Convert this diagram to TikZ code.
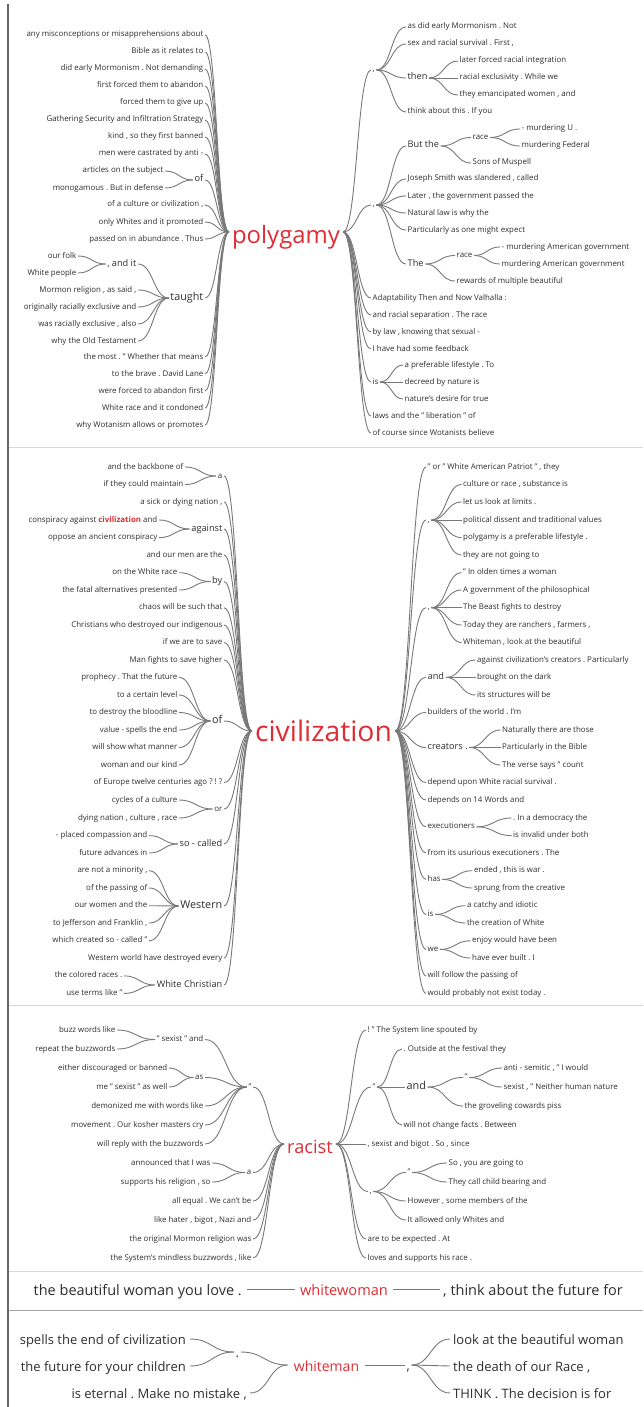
\documentclass[tikz,border=0pt]{standalone}
\usepackage{fontspec}
\setmainfont{Open Sans}
\frenchspacing
\usetikzlibrary{calc}
\definecolor{wt_red}{RGB}{222, 45, 52}
\definecolor{wt_text}{RGB}{45, 45, 45}
\definecolor{wt_line}{RGB}{120, 120, 120}
\definecolor{wt_rule}{RGB}{215, 215, 215}
\newcommand{\wsm}{\fontsize{7.9}{9}\selectfont}
\newcommand{\wmd}{\fontsize{9.2}{11}\selectfont}
\newcommand{\wlg}{\fontsize{10.8}{13}\selectfont}
\newcommand{\wbig}{\fontsize{14.5}{16}\selectfont}
\newcommand{\wmid}{\fontsize{13}{15}\selectfont}
\tikzstyle{wd}=[text=wt_text,inner xsep=1.5pt,inner ysep=0pt,
  text height=5.5pt,text depth=1.5pt,font=\wsm]
\tikzstyle{lw}=[wd,anchor=east]
\tikzstyle{rw}=[wd,anchor=west]
\tikzstyle{root}=[text=wt_red,inner xsep=3pt,inner ysep=0pt,text depth=0pt]
\tikzstyle{link}=[draw=wt_line,line width=0.9pt,
  to path={let \p1=(\tikztostart),\p2=(\tikztotarget) in
    .. controls ({(\x1+\x2)/2},\y1) and ({(\x1+\x2)/2},\y2) .. (\tikztotarget)}]

\begin{document}
\begin{tikzpicture}[x=1pt,y=-1pt]
  \useasboundingbox (0,0) rectangle (643,1407);
  % frame
  \draw[wt_rule,line width=1pt] (8,447) -- (643,447);
  \draw[wt_rule,line width=1pt] (8,1005) -- (643,1005);
  \draw[wt_rule,line width=1pt] (8,1271) -- (643,1271);
  \draw[black!35,line width=1pt] (8,1310) -- (643,1310);
  \draw[black!60,line width=1.5pt] (8,4) -- (8,1407);

  % polygamy
  \node[root,font=\fontsize{23.9}{24}\selectfont,text height=22pt] (pg) at (286,232) {polygamy};
  \node[lw] (pl1) at (205,35) {any misconceptions or misapprehensions about};
  \node[lw] (pl2) at (205,52) {Bible as it relates to};
  \node[lw] (pl3) at (205,69) {did early Mormonism . Not demanding};
  \node[lw] (pl4) at (205,86) {first forced them to abandon};
  \node[lw] (pl5) at (205,103) {forced them to give up};
  \node[lw] (pl6) at (205,120) {Gathering Security and Infiltration Strategy};
  \node[lw] (pl7) at (205,137) {kind , so they first banned};
  \node[lw] (pl8) at (205,154) {men were castrated by anti -};
  \node[lw] (plof1) at (165,171) {articles on the subject};
  \node[lw] (plof2) at (165,188) {monogamous . But in defense};
  \node[lw,font=\wmd] (plof) at (205,180) {of};
  \node[lw] (pl9) at (205,205) {of a culture or civilization ,};
  \node[lw] (pl10) at (205,222) {only Whites and it promoted};
  \node[lw] (pl11) at (205,239) {passed on in abundance . Thus};
  \node[lw] (pland1) at (78,256) {our folk};
  \node[lw] (pland2) at (78,273) {White people};
  \node[lw,font=\wmd] (pland) at (138,264) {, and it};
  \node[lw] (pltg1) at (138,290) {Mormon religion , as said ,};
  \node[lw] (pltg2) at (138,307) {originally racially exclusive and};
  \node[lw] (pltg3) at (138,324) {was racially exclusive , also};
  \node[lw] (pltg4) at (138,341) {why the Old Testament};
  \node[lw,font=\wlg] (pltg) at (205,298) {taught};
  \node[lw] (pl12) at (205,357) {the most . " Whether that means};
  \node[lw] (pl13) at (205,374) {to the brave . David Lane};
  \node[lw] (pl14) at (205,391) {were forced to abandon first};
  \node[lw] (pl15) at (205,408) {White race and it condoned};
  \node[lw] (pl16) at (205,425) {why Wotanism allows or promotes};

  \node[rw] (prc1) at (371,70) {,};
  \node[rw] (pr1) at (406,27) {as did early Mormonism . Not};
  \node[rw] (pr2) at (406,44) {sex and racial survival . First ,};
  \node[rw,font=\wmd] (prthen) at (406,78) {then};
  \node[rw] (prth1) at (458,61) {later forced racial integration};
  \node[rw] (prth2) at (458,78) {racial exclusivity . While we};
  \node[rw] (prth3) at (458,95) {they emancipated women , and};
  \node[rw] (pr3) at (406,112) {think about this . If you};
  \node[rw] (prc2) at (371,205) {,};
  \node[rw,font=\wmd] (prbut) at (406,146) {But the};
  \node[rw] (prrace1) at (471,137.5) {race};
  \node[rw] (prr11) at (520,129) {- murdering U .};
  \node[rw] (prr12) at (520,146) {murdering Federal};
  \node[rw] (prbut2) at (471,163) {Sons of Muspell};
  \node[rw] (pr4) at (406,179) {Joseph Smith was slandered , called};
  \node[rw] (pr5) at (406,196) {Later , the government passed the};
  \node[rw] (pr6) at (406,213) {Natural law is why the};
  \node[rw] (pr7) at (406,230) {Particularly as one might expect};
  \node[rw,font=\wmd] (prthe) at (406,264) {The};
  \node[rw] (prrace2) at (455,255.5) {race};
  \node[rw] (prr21) at (500,247) {- murdering American government};
  \node[rw] (prr22) at (500,264) {murdering American government};
  \node[rw] (prthe2) at (455,281) {rewards of multiple beautiful};
  \node[rw] (pr8) at (371,298) {Adaptability Then and Now Valhalla :};
  \node[rw] (pr9) at (371,315) {and racial separation . The race};
  \node[rw] (pr10) at (371,332) {by law , knowing that sexual -};
  \node[rw] (pr11) at (371,349) {I have had some feedback};
  \node[rw] (pris) at (371,382) {is};
  \node[rw] (pris1) at (403,365) {a preferable lifestyle . To};
  \node[rw] (pris2) at (403,382) {decreed by nature is};
  \node[rw] (pris3) at (403,399) {nature's desire for true};
  \node[rw] (pr12) at (371,416) {laws and the " liberation " of};
  \node[rw] (pr13) at (371,433) {of course since Wotanists believe};

  \foreach \i in {1,...,16} \draw[link] (pl\i.east) to (pg.west);
  \foreach \k in {plof,pltg} \draw[link] (\k.east) to (pg.west);
  \foreach \k in {plof1,plof2} \draw[link] (\k.east) to (plof.west);
  \foreach \k in {pland,pltg1,pltg2,pltg3,pltg4} \draw[link] (\k.east) to (pltg.west);
  \foreach \k in {pland1,pland2} \draw[link] (\k.east) to (pland.west);
  \foreach \k in {prc1,prc2,pr8,pr9,pr10,pr11,pris,pr12,pr13} \draw[link] (pg.east) to (\k.west);
  \foreach \k in {pr1,pr2,prthen,pr3} \draw[link] (prc1.east) to (\k.west);
  \foreach \k in {prth1,prth2,prth3} \draw[link] (prthen.east) to (\k.west);
  \foreach \k in {prbut,pr4,pr5,pr6,pr7,prthe} \draw[link] (prc2.east) to (\k.west);
  \foreach \k in {prrace1,prbut2} \draw[link] (prbut.east) to (\k.west);
  \foreach \k in {prr11,prr12} \draw[link] (prrace1.east) to (\k.west);
  \foreach \k in {prrace2,prthe2} \draw[link] (prthe.east) to (\k.west);
  \foreach \k in {prr21,prr22} \draw[link] (prrace2.east) to (\k.west);
  \foreach \k in {pris1,pris2,pris3} \draw[link] (pris.east) to (\k.west);

  % civilization
  \node[root,font=\fontsize{28.3}{29}\selectfont] (cv) at (323.5,731) {civilization};
  \node[lw] (cla1) at (185,467) {and the backbone of};
  \node[lw] (cla2) at (185,484.5) {if they could maintain};
  \node[lw] (cla) at (224,476) {a};
  \node[lw] (cl1) at (224,502) {a sick or dying nation ,};
  \node[lw] (clag1) at (159,520) {conspiracy against \textcolor{wt_red}{\textbf{civilization}} and};
  \node[lw] (clag2) at (159,537.6) {oppose an ancient conspiracy};
  \node[lw,font=\wmd] (clag) at (224,529) {against};
  \node[lw] (cl2) at (224,555) {and our men are the};
  \node[lw] (clby1) at (179,572.7) {on the White race};
  \node[lw] (clby2) at (179,590) {the fatal alternatives presented};
  \node[lw,font=\wmd] (clby) at (224,581.5) {by};
  \node[lw] (cl3) at (224,607.7) {chaos will be such that};
  \node[lw] (cl4) at (224,625) {Christians who destroyed our indigenous};
  \node[lw] (cl5) at (224,642.5) {if we are to save};
  \node[lw] (cl6) at (224,660) {Man fights to save higher};
  \node[lw] (clof1) at (179,677.4) {prophecy . That the future};
  \node[lw] (clof2) at (179,695) {to a certain level};
  \node[lw] (clof3) at (179,712.5) {to destroy the bloodline};
  \node[lw] (clof4) at (179,730) {value - spells the end};
  \node[lw] (clof5) at (179,747.5) {will show what manner};
  \node[lw] (clof6) at (179,765) {woman and our kind};
  \node[lw,font=\wlg] (clof) at (224,721) {of};
  \node[lw] (cl7) at (224,782.5) {of Europe twelve centuries ago ? ! ?};
  \node[lw] (clor1) at (179,800) {cycles of a culture};
  \node[lw] (clor2) at (179,818) {dying nation , culture , race};
  \node[lw] (clor) at (224,809) {or};
  \node[lw] (clso1) at (149,835.6) {- placed compassion and};
  \node[lw] (clso2) at (149,853) {future advances in};
  \node[lw,font=\wmd] (clso) at (224,844) {so - called};
  \node[lw] (clw1) at (149,870.7) {are not a minority ,};
  \node[lw] (clw2) at (149,888) {of the passing of};
  \node[lw] (clw3) at (149,905.7) {our women and the};
  \node[lw] (clw4) at (149,923) {to Jefferson and Franklin ,};
  \node[lw] (clw5) at (149,940.8) {which created so - called "};
  \node[lw,font=\wlg] (clw) at (224,906) {Western};
  \node[lw] (cl8) at (224,958) {Western world have destroyed every};
  \node[lw] (clwc1) at (124,975.9) {the colored races .};
  \node[lw] (clwc2) at (124,993.4) {use terms like "};
  \node[lw,font=\wmd] (clwc) at (224,985) {White Christian};

  \node[rw] (cr1) at (426,467) {" or " White American Patriot " , they};
  \node[rw] (crc1) at (426,520) {,};
  \node[rw] (crc11) at (461.5,484.5) {culture or race , substance is};
  \node[rw] (crc12) at (461.5,502) {let us look at limits .};
  \node[rw] (crc13) at (461.5,520) {political dissent and traditional values};
  \node[rw] (crc14) at (461.5,537.6) {polygamy is a preferable lifestyle .};
  \node[rw] (crc15) at (461.5,555) {they are not going to};
  \node[rw] (crc2) at (426,607.7) {,};
  \node[rw] (crc21) at (461.5,572.7) {" In olden times a woman};
  \node[rw] (crc22) at (461.5,590) {A government of the philosophical};
  \node[rw] (crc23) at (461.5,607.7) {The Beast fights to destroy};
  \node[rw] (crc24) at (461.5,625) {Today they are ranchers , farmers ,};
  \node[rw] (crc25) at (461.5,642.5) {Whiteman , look at the beautiful};
  \node[rw,font=\wmd] (crand) at (426,677.4) {and};
  \node[rw] (crand1) at (475.5,660) {against civilization's creators . Particularly};
  \node[rw] (crand2) at (475.5,677.4) {brought on the dark};
  \node[rw] (crand3) at (475.5,695) {its structures will be};
  \node[rw] (cr2) at (426,712.5) {builders of the world . I'm};
  \node[rw,font=\wmd] (crcr) at (426,747.5) {creators .};
  \node[rw] (crcr1) at (500.5,730) {Naturally there are those};
  \node[rw] (crcr2) at (500.5,747.5) {Particularly in the Bible};
  \node[rw] (crcr3) at (500.5,765) {The verse says " count};
  \node[rw] (cr3) at (426,782.5) {depend upon White racial survival .};
  \node[rw] (cr4) at (426,800) {depends on 14 Words and};
  \node[rw] (crex) at (426,826.8) {executioners};
  \node[rw] (crex1) at (511.5,818) {. In a democracy the};
  \node[rw] (crex2) at (511.5,835.6) {is invalid under both};
  \node[rw] (cr5) at (426,853) {from its usurious executioners . The};
  \node[rw] (crhas) at (426,879.4) {has};
  \node[rw] (crhas1) at (472.5,870.7) {ended , this is war .};
  \node[rw] (crhas2) at (472.5,888) {sprung from the creative};
  \node[rw] (cris) at (426,914.4) {is};
  \node[rw] (cris1) at (465.5,905.7) {a catchy and idiotic};
  \node[rw] (cris2) at (465.5,923) {the creation of White};
  \node[rw] (crwe) at (426,949.4) {we};
  \node[rw] (crwe1) at (470.5,940.8) {enjoy would have been};
  \node[rw] (crwe2) at (470.5,958) {have ever built . I};
  \node[rw] (cr6) at (426,975.9) {will follow the passing of};
  \node[rw] (cr7) at (426,993.4) {would probably not exist today .};

  \foreach \i in {1,...,8} \draw[link] (cl\i.east) to (cv.west);
  \foreach \k in {cla,clag,clby,clof,clor,clso,clw,clwc} \draw[link] (\k.east) to (cv.west);
  \foreach \k in {cla1,cla2} \draw[link] (\k.east) to (cla.west);
  \foreach \k in {clag1,clag2} \draw[link] (\k.east) to (clag.west);
  \foreach \k in {clby1,clby2} \draw[link] (\k.east) to (clby.west);
  \foreach \i in {1,...,6} \draw[link] (clof\i.east) to (clof.west);
  \foreach \k in {clor1,clor2} \draw[link] (\k.east) to (clor.west);
  \foreach \k in {clso1,clso2} \draw[link] (\k.east) to (clso.west);
  \foreach \i in {1,...,5} \draw[link] (clw\i.east) to (clw.west);
  \foreach \k in {clwc1,clwc2} \draw[link] (\k.east) to (clwc.west);
  \foreach \i in {1,...,7} \draw[link] (cv.east) to (cr\i.west);
  \foreach \k in {crc1,crc2,crand,crcr,crex,crhas,cris,crwe} \draw[link] (cv.east) to (\k.west);
  \foreach \i in {1,...,5} \draw[link] (crc1.east) to (crc1\i.west);
  \foreach \i in {1,...,5} \draw[link] (crc2.east) to (crc2\i.west);
  \foreach \i in {1,2,3} \draw[link] (crand.east) to (crand\i.west);
  \foreach \i in {1,2,3} \draw[link] (crcr.east) to (crcr\i.west);
  \foreach \k in {crex,crhas,cris,crwe} {
    \draw[link] (\k.east) to (\k1.west);
    \draw[link] (\k.east) to (\k2.west);
  }

  % racist
  \node[root,font=\fontsize{18.2}{19}\selectfont,text height=18pt] (rc) at (310,1144) {racist};
  \node[lw] (rlsx1) at (117,1030) {buzz words like};
  \node[lw] (rlsx2) at (117,1049) {repeat the buzzwords};
  \node[lw] (rlsx) at (205,1039.5) {" sexist " and};
  \node[lw] (rlas1) at (169,1068) {either discouraged or banned};
  \node[lw] (rlas2) at (169,1087) {me " sexist " as well};
  \node[lw] (rlas) at (205,1077.5) {as};
  \node[lw] (rlq1) at (205,1106) {demonized me with words like};
  \node[lw] (rlq2) at (205,1125) {movement . Our kosher masters cry};
  \node[lw] (rlq3) at (205,1144) {will reply with the buzzwords};
  \node[lw] (rlq) at (253,1087) {"};
  \node[lw] (rla1) at (212,1163) {announced that I was};
  \node[lw] (rla2) at (212,1182) {supports his religion , so};
  \node[lw] (rla) at (253,1172.5) {a};
  \node[lw] (rl1) at (253,1201) {all equal . We can't be};
  \node[lw] (rl2) at (253,1220) {like hater , bigot , Nazi and};
  \node[lw] (rl3) at (253,1239) {the original Mormon religion was};
  \node[lw] (rl4) at (253,1258) {the System's mindless buzzwords , like};

  \node[rw] (rr1) at (366,1030) {! " The System line spouted by};
  \node[rw] (rrq) at (371,1087) {"};
  \node[rw] (rrq1) at (402,1049) {. Outside at the festival they};
  \node[rw,font=\wlg] (rrand) at (405,1087) {and};
  \node[rw] (rraq) at (463,1077.5) {"};
  \node[rw] (rraq1) at (502,1068) {anti - semitic , " I would};
  \node[rw] (rraq2) at (502,1087) {sexist , " Neither human nature};
  \node[rw] (rrand2) at (463,1106) {the groveling cowards piss};
  \node[rw] (rrq2) at (402,1125) {will not change facts . Between};
  \node[rw] (rr2) at (366,1144) {, sexist and bigot . So , since};
  \node[rw] (rrc) at (368,1191.5) {,};
  \node[rw] (rrcq) at (406,1172.5) {"};
  \node[rw] (rrcq1) at (447,1163) {So , you are going to};
  \node[rw] (rrcq2) at (447,1182) {They call child bearing and};
  \node[rw] (rrc1) at (406,1201) {However , some members of the};
  \node[rw] (rrc2) at (406,1220) {It allowed only Whites and};
  \node[rw] (rr3) at (366,1239) {are to be expected . At};
  \node[rw] (rr4) at (366,1258) {loves and supports his race .};

  \foreach \k in {rlq,rla,rl1,rl2,rl3,rl4} \draw[link] (\k.east) to (rc.west);
  \foreach \k in {rlsx,rlas,rlq1,rlq2,rlq3} \draw[link] (\k.east) to (rlq.west);
  \foreach \k in {rlsx1,rlsx2} \draw[link] (\k.east) to (rlsx.west);
  \foreach \k in {rlas1,rlas2} \draw[link] (\k.east) to (rlas.west);
  \foreach \k in {rla1,rla2} \draw[link] (\k.east) to (rla.west);
  \foreach \k in {rr1,rrq,rr2,rrc,rr3,rr4} \draw[link] (rc.east) to (\k.west);
  \foreach \k in {rrq1,rrand,rrq2} \draw[link] (rrq.east) to (\k.west);
  \foreach \k in {rraq,rrand2} \draw[link] (rrand.east) to (\k.west);
  \foreach \k in {rraq1,rraq2} \draw[link] (rraq.east) to (\k.west);
  \foreach \k in {rrcq,rrc1,rrc2} \draw[link] (rrc.east) to (\k.west);
  \foreach \k in {rrcq1,rrcq2} \draw[link] (rrcq.east) to (\k.west);

  % whitewoman
  \node[root,font=\fontsize{14.6}{15}\selectfont,text height=12pt,inner xsep=5pt] (ww) at (344,1289) {whitewoman};
  \node[lw,font=\wbig,text height=12pt,text depth=0pt,inner xsep=5pt] (wwl) at (247,1289) {the beautiful woman you love .};
  \node[rw,font=\wbig,text height=12pt,text depth=0pt,inner xsep=3pt] (wwr) at (440,1289) {, think about the future for};
  \draw[link] (wwl.east) to (ww.west);
  \draw[link] (ww.east) to (wwr.west);

  % whiteman
  \node[root,font=\fontsize{14}{15}\selectfont,text height=12pt,inner xsep=6pt] (wm) at (326.5,1365) {whiteman};
  \node[lw,font=\wmid,text height=11pt,text depth=0pt,inner xsep=4pt] (wml1) at (190,1339) {spells the end of civilization};
  \node[lw,font=\wmid,text height=11pt,text depth=0pt,inner xsep=4pt] (wml2) at (190,1366) {the future for your children};
  \node[lw,font=\wmid,text height=11pt,text depth=0pt,inner xsep=3pt] (wml3) at (250,1393) {is eternal . Make no mistake ,};
  \node[rw,font=\wmid,text height=11pt,text depth=0pt] (wmdot) at (234,1352) {.};
  \node[rw,font=\wmid,text height=11pt,text depth=0pt] (wmc) at (405,1365) {,};
  \node[rw,font=\wmid,text height=11pt,text depth=0pt,inner xsep=3pt] (wmr1) at (450,1339) {look at the beautiful woman};
  \node[rw,font=\wmid,text height=11pt,text depth=0pt,inner xsep=3pt] (wmr2) at (450,1366) {the death of our Race ,};
  \node[rw,font=\wmid,text height=11pt,text depth=0pt,inner xsep=3pt] (wmr3) at (450,1393) {THINK . The decision is for};
  \foreach \k in {wml1,wml2} \draw[link] (\k.east) to (wmdot.west);
  \foreach \k in {wmdot,wml3} \draw[link] (\k.east) to (wm.west);
  \draw[link] (wm.east) to (wmc.west);
  \foreach \i in {1,2,3} \draw[link] (wmc.east) to (wmr\i.west);
\end{tikzpicture}
\end{document}
